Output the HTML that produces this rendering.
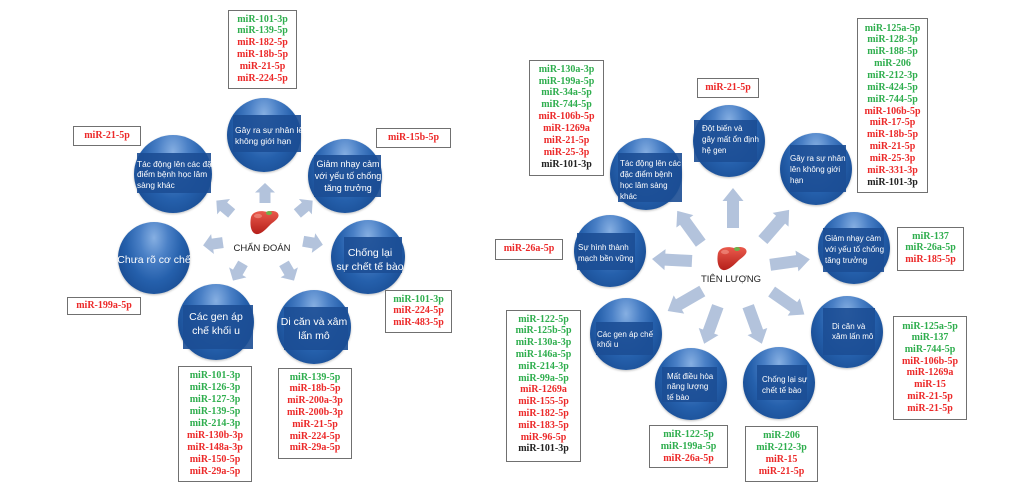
<!DOCTYPE html>
<html>
<head>
<meta charset="utf-8">
<style>
html,body{margin:0;padding:0;background:#fff;}
#pg{position:relative;width:1024px;height:498px;overflow:hidden;background:#fff;font-family:"Liberation Sans","DejaVu Sans",sans-serif;}
.c{position:absolute;border-radius:50%;
 background:radial-gradient(ellipse at 50% 22%, #86afe2 0%, #4a80c6 28%, #2560ac 55%, #1a4e95 80%, #143f7c 100%);
 box-shadow:0 1px 2px rgba(0,0,0,0.25);}
.r{position:absolute;background:#1c4e95;opacity:0.9;}
.t{position:absolute;color:#fff;white-space:nowrap;}
.b{position:absolute;box-sizing:border-box;border:1.5px solid #707070;background:#fff;text-align:center;
 font-family:"Liberation Serif","DejaVu Serif",serif;font-weight:bold;font-size:10px;line-height:11.8px;padding-top:2.6px;white-space:nowrap;}
.g{color:#2fae4e;}
.d{color:#ec2a2a;}
.k{color:#222;}
.lbl{position:absolute;font-size:9.5px;color:#222;white-space:nowrap;text-align:center;}
svg{position:absolute;left:0;top:0;}
</style>
</head>
<body>
<div id="pg">

<svg width="1024" height="498" viewBox="0 0 1024 498">
<defs>
<polygon id="aL" points="-10,-5.5 0.5,-5.5 0.5,-10 10,0 0.5,10 0.5,5.5 -10,5.5" fill="#b3c3dc"/>
<polygon id="aR" points="-20,-6 7,-6 7,-10.5 20,0 7,10.5 7,6 -20,6" fill="#b3c3dc"/>
<linearGradient id="lv" x1="0" y1="0" x2="0" y2="1">
<stop offset="0" stop-color="#ea5a4c"/>
<stop offset="1" stop-color="#b51f1a"/>
</linearGradient>
</defs>
<!-- left arrows -->
<use href="#aL" transform="translate(265,193) rotate(-90)"/>
<use href="#aL" transform="translate(224,207) rotate(-140)"/>
<use href="#aL" transform="translate(305,207) rotate(-40)"/>
<use href="#aL" transform="translate(213,244) rotate(172)"/>
<use href="#aL" transform="translate(313,243) rotate(10)"/>
<use href="#aL" transform="translate(238,272) rotate(120)"/>
<use href="#aL" transform="translate(289,272) rotate(60)"/>
<!-- right arrows -->
<use href="#aR" transform="translate(733,208) rotate(-90)"/>
<use href="#aR" transform="translate(689,227) rotate(-126)"/>
<use href="#aR" transform="translate(776,225) rotate(-49)"/>
<use href="#aR" transform="translate(672,260) rotate(183)"/>
<use href="#aR" transform="translate(790,262) rotate(-8)"/>
<use href="#aR" transform="translate(685,301) rotate(150)"/>
<use href="#aR" transform="translate(788,303) rotate(35)"/>
<use href="#aR" transform="translate(711,325) rotate(110)"/>
<use href="#aR" transform="translate(755,325) rotate(70)"/>
<!-- livers -->
<g transform="translate(250,210)">
<path d="M1,7 C3,1 11,0 17,2 C22,0 28,1 28.5,5 C29,8 25,11 21,14 C16,19 11,25 6,24 C1,23 -0.5,15 1,7 Z" fill="url(#lv)"/>
<ellipse cx="19" cy="3" rx="3" ry="2" fill="#6fb24a"/>
<ellipse cx="8" cy="6" rx="4" ry="2.2" fill="#f39a8c" opacity="0.6"/>
</g>
<g transform="translate(717,246)">
<path d="M1,7 C3,1 11,0 17,2 C22,0 29,1 29.5,5 C30,8 26,11 22,14 C17,19 11,25 6,24 C1,23 -0.5,15 1,7 Z" fill="url(#lv)"/>
<ellipse cx="20" cy="3" rx="3" ry="2" fill="#6fb24a"/>
<ellipse cx="8" cy="6" rx="4" ry="2.2" fill="#f39a8c" opacity="0.6"/>
</g>
</svg>

<div class="lbl" style="left:222px;top:243px;width:80px;">CHẨN ĐOÁN</div>
<div class="lbl" style="left:691px;top:274px;width:80px;">TIÊN LƯỢNG</div>

<!-- LEFT circles -->
<div class="c" style="left:227px;top:98px;width:74px;height:74px;"></div>
<div class="r" style="left:233px;top:115px;width:68px;height:37px;"></div>
<div class="t" style="left:235px;top:124.5px;font-size:8.5px;line-height:11px;">Gây ra sự nhân lên<br>không giới hạn</div>

<div class="c" style="left:134px;top:135px;width:78px;height:78px;"></div>
<div class="r" style="left:137px;top:153px;width:74px;height:40px;"></div>
<div class="t" style="left:137px;top:158.5px;font-size:8.3px;line-height:10.5px;">Tác động lên các đặc<br>điểm bệnh học lâm<br>sàng khác</div>

<div class="c" style="left:308px;top:139px;width:74px;height:74px;"></div>
<div class="r" style="left:314px;top:155px;width:67px;height:42px;"></div>
<div class="t" style="left:308px;top:158px;width:80px;text-align:center;font-size:9px;line-height:12px;">Giảm nhạy cảm<br>với yếu tố chống<br>tăng trưởng</div>

<div class="c" style="left:331px;top:220px;width:74px;height:74px;"></div>
<div class="r" style="left:344px;top:237px;width:58px;height:36px;"></div>
<div class="t" style="left:328px;top:246px;width:84px;text-align:center;font-size:10.5px;line-height:14px;">Chống lại<br>sự chết tế bào</div>

<div class="c" style="left:118px;top:222px;width:72px;height:72px;"></div>
<div class="t" style="left:110px;top:253px;width:88px;text-align:center;font-size:10.5px;line-height:14px;">Chưa rõ cơ chế</div>

<div class="c" style="left:178px;top:284px;width:76px;height:76px;"></div>
<div class="r" style="left:183px;top:305px;width:70px;height:44px;"></div>
<div class="t" style="left:176px;top:311px;width:80px;text-align:center;font-size:10.5px;line-height:13.5px;">Các gen áp<br>chế khối u</div>

<div class="c" style="left:277px;top:290px;width:74px;height:74px;"></div>
<div class="r" style="left:284px;top:307px;width:64px;height:43px;"></div>
<div class="t" style="left:274px;top:315px;width:80px;text-align:center;font-size:10.5px;line-height:14px;">Di căn và xâm<br>lấn mô</div>

<!-- RIGHT circles -->
<div class="c" style="left:693px;top:105px;width:72px;height:72px;"></div>
<div class="r" style="left:694px;top:120px;width:63px;height:42px;"></div>
<div class="t" style="left:702px;top:122.5px;font-size:8px;line-height:11px;">Đột biến và<br>gây mất ổn định<br>hệ gen</div>

<div class="c" style="left:610px;top:138px;width:72px;height:72px;"></div>
<div class="r" style="left:618px;top:153px;width:64px;height:49px;"></div>
<div class="t" style="left:620px;top:157.5px;font-size:8px;line-height:11px;">Tác động lên các<br>đặc điểm bệnh<br>học lâm sàng<br>khác</div>

<div class="c" style="left:780px;top:133px;width:72px;height:72px;"></div>
<div class="r" style="left:790px;top:145px;width:56px;height:47px;"></div>
<div class="t" style="left:790px;top:152.5px;font-size:8px;line-height:11px;">Gây ra sự nhân<br>lên không giới<br>hạn</div>

<div class="c" style="left:818px;top:212px;width:72px;height:72px;"></div>
<div class="r" style="left:823px;top:228px;width:61px;height:44px;"></div>
<div class="t" style="left:825px;top:232.5px;font-size:8px;line-height:11px;">Giảm nhạy cảm<br>với yếu tố chống<br>tăng trưởng</div>

<div class="c" style="left:811px;top:296px;width:72px;height:72px;"></div>
<div class="r" style="left:823px;top:308px;width:52px;height:47px;"></div>
<div class="t" style="left:832px;top:321.5px;font-size:8px;line-height:10.5px;">Di căn và<br>xâm lấn mô</div>

<div class="c" style="left:743px;top:347px;width:72px;height:72px;"></div>
<div class="r" style="left:757px;top:365px;width:50px;height:35px;"></div>
<div class="t" style="left:762px;top:373.5px;font-size:8px;line-height:11px;">Chống lại sự<br>chết tế bào</div>

<div class="c" style="left:655px;top:348px;width:72px;height:72px;"></div>
<div class="r" style="left:662px;top:367px;width:55px;height:35px;"></div>
<div class="t" style="left:667px;top:371.5px;font-size:8px;line-height:10.5px;">Mất điều hòa<br>năng lượng<br>tế bào</div>

<div class="c" style="left:590px;top:298px;width:72px;height:72px;"></div>
<div class="r" style="left:596px;top:322px;width:57px;height:33px;"></div>
<div class="t" style="left:597px;top:329.75px;font-size:8px;line-height:10.5px;">Các gen áp chế<br>khối u</div>

<div class="c" style="left:574px;top:215px;width:72px;height:72px;"></div>
<div class="r" style="left:577px;top:233px;width:58px;height:37px;"></div>
<div class="t" style="left:578px;top:241.5px;font-size:8px;line-height:11px;">Sự hình thành<br>mạch bền vững</div>

<!-- LEFT boxes -->
<div class="b" style="left:228px;top:10px;width:69px;height:79px;"><span class="g">miR-101-3p</span><br><span class="g">miR-139-5p</span><br><span class="d">miR-182-5p</span><br><span class="d">miR-18b-5p</span><br><span class="d">miR-21-5p</span><br><span class="d">miR-224-5p</span></div>
<div class="b" style="left:73px;top:126px;width:68px;height:20px;"><span class="d">miR-21-5p</span></div>
<div class="b" style="left:376px;top:128px;width:75px;height:20px;"><span class="d">miR-15b-5p</span></div>
<div class="b" style="left:67px;top:297px;width:74px;height:18px;padding-top:1.6px;"><span class="d">miR-199a-5p</span></div>
<div class="b" style="left:385px;top:290px;width:67px;height:43px;"><span class="g">miR-101-3p</span><br><span class="d">miR-224-5p</span><br><span class="d">miR-483-5p</span></div>
<div class="b" style="left:178px;top:366px;width:74px;height:116px;line-height:12px;"><span class="g">miR-101-3p</span><br><span class="g">miR-126-3p</span><br><span class="g">miR-127-3p</span><br><span class="g">miR-139-5p</span><br><span class="g">miR-214-3p</span><br><span class="d">miR-130b-3p</span><br><span class="d">miR-148a-3p</span><br><span class="d">miR-150-5p</span><br><span class="d">miR-29a-5p</span></div>
<div class="b" style="left:278px;top:368px;width:74px;height:91px;"><span class="g">miR-139-5p</span><br><span class="d">miR-18b-5p</span><br><span class="d">miR-200a-3p</span><br><span class="d">miR-200b-3p</span><br><span class="d">miR-21-5p</span><br><span class="d">miR-224-5p</span><br><span class="d">miR-29a-5p</span></div>

<!-- RIGHT boxes -->
<div class="b" style="left:529px;top:60px;width:75px;height:116px;line-height:11.9px;"><span class="g">miR-130a-3p</span><br><span class="g">miR-199a-5p</span><br><span class="g">miR-34a-5p</span><br><span class="g">miR-744-5p</span><br><span class="d">miR-106b-5p</span><br><span class="d">miR-1269a</span><br><span class="d">miR-21-5p</span><br><span class="d">miR-25-3p</span><br><span class="k">miR-101-3p</span></div>
<div class="b" style="left:697px;top:78px;width:62px;height:20px;"><span class="d">miR-21-5p</span></div>
<div class="b" style="left:857px;top:18px;width:71px;height:175px;padding-top:3.6px;line-height:11.85px;"><span class="g">miR-125a-5p</span><br><span class="g">miR-128-3p</span><br><span class="g">miR-188-5p</span><br><span class="g">miR-206</span><br><span class="g">miR-212-3p</span><br><span class="g">miR-424-5p</span><br><span class="g">miR-744-5p</span><br><span class="d">miR-106b-5p</span><br><span class="d">miR-17-5p</span><br><span class="d">miR-18b-5p</span><br><span class="d">miR-21-5p</span><br><span class="d">miR-25-3p</span><br><span class="d">miR-331-3p</span><br><span class="k">miR-101-3p</span></div>
<div class="b" style="left:897px;top:227px;width:67px;height:44px;"><span class="g">miR-137</span><br><span class="g">miR-26a-5p</span><br><span class="d">miR-185-5p</span></div>
<div class="b" style="left:893px;top:316px;width:74px;height:104px;padding-top:3.6px;line-height:11.7px;"><span class="g">miR-125a-5p</span><br><span class="g">miR-137</span><br><span class="g">miR-744-5p</span><br><span class="d">miR-106b-5p</span><br><span class="d">miR-1269a</span><br><span class="d">miR-15</span><br><span class="d">miR-21-5p</span><br><span class="d">miR-21-5p</span></div>
<div class="b" style="left:745px;top:426px;width:73px;height:56px;line-height:12px;"><span class="g">miR-206</span><br><span class="g">miR-212-3p</span><br><span class="d">miR-15</span><br><span class="d">miR-21-5p</span></div>
<div class="b" style="left:649px;top:425px;width:79px;height:43px;line-height:12px;"><span class="g">miR-122-5p</span><br><span class="g">miR-199a-5p</span><br><span class="d">miR-26a-5p</span></div>
<div class="b" style="left:506px;top:310px;width:75px;height:152px;"><span class="g">miR-122-5p</span><br><span class="g">miR-125b-5p</span><br><span class="g">miR-130a-3p</span><br><span class="g">miR-146a-5p</span><br><span class="g">miR-214-3p</span><br><span class="g">miR-99a-5p</span><br><span class="d">miR-1269a</span><br><span class="d">miR-155-5p</span><br><span class="d">miR-182-5p</span><br><span class="d">miR-183-5p</span><br><span class="d">miR-96-5p</span><br><span class="k">miR-101-3p</span></div>
<div class="b" style="left:495px;top:239px;width:68px;height:21px;padding-top:3px;"><span class="d">miR-26a-5p</span></div>

</div>
</body>
</html>
